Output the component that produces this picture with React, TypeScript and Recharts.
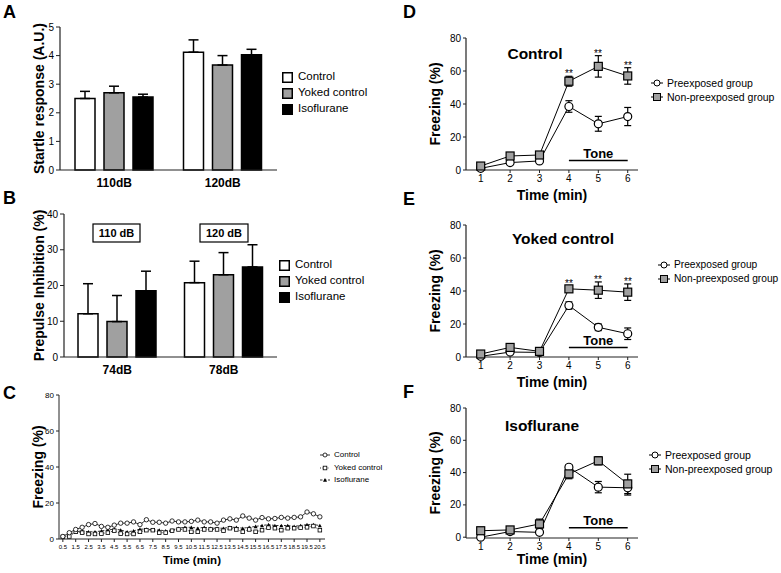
import React from 'react';
import {
  BarChart, Bar, LineChart, Line, XAxis, YAxis, ErrorBar, Legend,
  ReferenceLine, LabelList,
} from 'recharts';

const FONT = '"Liberation Sans", Arial, Helvetica, sans-serif';
const AX = '#222';

// ---------- Panel A: startle response ----------
const aCategories = ['110dB', '120dB'];
const aControl = [2.5, 4.12];
const aControlErr = [0.25, 0.43];
const aYoked = [2.7, 3.67];
const aYokedErr = [0.23, 0.33];
const aIso = [2.55, 4.03];
const aIsoErr = [0.1, 0.19];
const aTicks = [0, 1, 2, 3, 4, 5];

// ---------- Panel B: prepulse inhibition ----------
const bCategories = ['74dB', '78dB'];
const bControl = [12.1, 20.8];
const bControlErr = [8.4, 6.0];
const bYoked = [9.9, 23.0];
const bYokedErr = [7.3, 6.2];
const bIso = [18.5, 25.2];
const bIsoErr = [5.5, 6.2];
const bTicks = [0, 10, 20, 30, 40];
const bBoxLabels = ['110 dB', '120 dB'];

const groupNames = ['Control', 'Yoked control', 'Isoflurane'];
const groupFills = ['#ffffff', '#a0a0a0', '#000000'];

// ---------- Panel C: freezing over 20 min ----------
const cTime = [0.5, 1, 1.5, 2, 2.5, 3, 3.5, 4, 4.5, 5, 5.5, 6, 6.5, 7, 7.5, 8, 8.5, 9, 9.5, 10,
  10.5, 11, 11.5, 12, 12.5, 13, 13.5, 14, 14.5, 15, 15.5, 16, 16.5, 17, 17.5, 18, 18.5, 19, 19.5, 20, 20.5];
const cControl = [1.4, 3.5, 5.3, 6.5, 8, 8.6, 7, 6.5, 7.7, 8.8, 8.8, 9.5, 8, 10.7, 9.3, 9.3, 8.8, 10, 9.5, 9.5,
  9.8, 10.5, 9.5, 9.5, 8.8, 10.5, 11.2, 10.5, 12.8, 11.6, 10.5, 11.9, 11.2, 11.4, 12, 11.6, 12, 12.3, 15, 14, 12.3];
const cYoked = [1.2, 1.4, 4, 3.5, 2.8, 2.8, 3, 3.5, 4.6, 3, 2.8, 2.8, 4, 4.9, 4.9, 3.5, 3.5, 4.6, 5.3, 5.3,
  4, 4, 5.3, 5.3, 5.3, 4.6, 6, 5.3, 4, 5.3, 4, 4.9, 6.3, 6, 4.9, 6, 6, 6.3, 6.5, 7.2, 4.9];
const cIso = [1.5, 2.5, 4, 4.5, 4, 4, 4.5, 5, 5.5, 5, 4, 4.5, 5.5, 5.5, 5, 5, 4.5, 5, 6, 6.5,
  6.5, 6, 6.5, 6, 6, 6, 6.5, 6.5, 6, 6.5, 7, 7.5, 8, 7.5, 7.5, 7.5, 7, 7.5, 8, 8, 7.5];
const cTicks = [0.5, 1.5, 2.5, 3.5, 4.5, 5.5, 6.5, 7.5, 8.5, 9.5, 10.5, 11.5, 12.5, 13.5, 14.5, 15.5, 16.5, 17.5, 18.5, 19.5, 20.5];
const freezeTicks = [0, 20, 40, 60, 80];

// ---------- Panels D-F: tone test ----------
const timeMin = [1, 2, 3, 4, 5, 6];
const toneLevel = 5.8;
const lineNames = ['Preexposed group', 'Non-preexposed group'];

const dPre = [1, 4.5, 5.5, 38.5, 28, 32.4];
const dPreErr = [0.5, 1, 1, 3.5, 4.5, 5.5];
const dNon = [2.4, 8.5, 9.1, 53.8, 62.8, 57];
const dNonErr = [0.5, 1.5, 1.5, 3, 6.5, 5];
const dSig = ['', '', '', '**', '**', '**'];

const ePre = [0.4, 3, 2.8, 31.2, 18, 14.1];
const ePreErr = [0.3, 1, 0.8, 2.2, 2, 3.5];
const eNon = [1.8, 5.8, 3.4, 41.3, 40.5, 39.3];
const eNonErr = [0.5, 1, 0.8, 1.8, 5, 5];
const eSig = ['', '', '', '**', '**', '**'];

const fPre = [0, 3.5, 3, 43.3, 31, 30.6];
const fPreErr = [0.5, 0.8, 0.8, 1.5, 3.5, 4.5];
const fNon = [4, 4.5, 8.2, 39.2, 47.3, 33];
const fNonErr = [2, 1, 3, 3, 2.5, 6];
const fSig = ['', '', '', '', '', ''];

// ---------- helpers ----------
const yTitle = (text: string, x: number, size: number) => (props: any) => {
  const vb = props.viewBox || {};
  const cy = (vb.y ?? 0) + (vb.height ?? 0) / 2;
  return (
    <text transform={`translate(${x},${cy}) rotate(-90)`} textAnchor="middle" dominantBaseline="central"
      fontFamily={FONT} fontWeight="bold" fontSize={size} fill="#000">{text}</text>
  );
};
const xTitle = (text: string, y: number, size: number) => (props: any) => {
  const vb = props.viewBox || {};
  const cx = (vb.x ?? 0) + (vb.width ?? 0) / 2;
  return (
    <text x={cx} y={y} textAnchor="middle" dominantBaseline="central"
      fontFamily={FONT} fontWeight="bold" fontSize={size} fill="#000">{text}</text>
  );
};

const boxLegend = (fontSize: number, rowH: number) => () => (
  <div style={{ fontFamily: FONT, fontSize, color: '#000', lineHeight: 1 }}>
    {groupNames.map((n, i) => (
      <div key={n} style={{ display: 'flex', alignItems: 'center', height: rowH, whiteSpace: 'nowrap' }}>
        <svg width={11} height={11} style={{ marginRight: 5 }}>
          <rect x={0.75} y={0.75} width={9.5} height={9.5} fill={groupFills[i]} stroke="#000" strokeWidth={1.5} />
        </svg>
        <span>{n}</span>
      </div>
    ))}
  </div>
);

const mkSquare = (size: number, fill: string, sw: number) => (p: any) => {
  if (p.cx == null || p.cy == null) return <g key={p.key} />;
  return <rect key={p.key} x={p.cx - size / 2} y={p.cy - size / 2} width={size} height={size} fill={fill} stroke="#000" strokeWidth={sw} />;
};
const mkCircle = (r: number, sw: number) => (p: any) => {
  if (p.cx == null || p.cy == null) return <g key={p.key} />;
  return <circle key={p.key} cx={p.cx} cy={p.cy} r={r} fill="#fff" stroke="#000" strokeWidth={sw} />;
};
const mkTriangle = (s: number) => (p: any) => {
  if (p.cx == null || p.cy == null) return <g key={p.key} />;
  const h = s * 0.9;
  return <path key={p.key} d={`M${p.cx},${p.cy - h / 2} L${p.cx + s / 2},${p.cy + h / 2} L${p.cx - s / 2},${p.cy + h / 2} Z`} fill="#000" />;
};

const lineLegend = (fontSize: number, rowH: number) => () => (
  <div style={{ fontFamily: FONT, fontSize, color: '#000', lineHeight: 1 }}>
    {lineNames.map((n, i) => (
      <div key={n} style={{ display: 'flex', alignItems: 'center', height: rowH, whiteSpace: 'nowrap' }}>
        <svg width={12} height={10} style={{ marginRight: 4 }}>
          <line x1={0} y1={5} x2={12} y2={5} stroke="#000" strokeWidth={1} />
          {i === 0
            ? <circle cx={6} cy={5} r={3} fill="#fff" stroke="#000" strokeWidth={1} />
            : <rect x={2.5} y={1.5} width={7} height={7} fill="#a0a0a0" stroke="#000" strokeWidth={1} />}
        </svg>
        <span>{n}</span>
      </div>
    ))}
  </div>
);

const cLegendStyles = [
  { dash: undefined, marker: 'circle' },
  { dash: '1 1.5', marker: 'square' },
  { dash: '2.5 1.5', marker: 'triangle' },
];
const cLegend = () => (
  <div style={{ fontFamily: FONT, fontSize: 8, color: '#000', lineHeight: 1 }}>
    {groupNames.map((n, i) => (
      <div key={n} style={{ display: 'flex', alignItems: 'center', height: 12.5, whiteSpace: 'nowrap' }}>
        <svg width={10} height={8} style={{ marginRight: 4 }}>
          <line x1={0} y1={4} x2={10} y2={4} stroke="#000" strokeWidth={0.8} strokeDasharray={cLegendStyles[i].dash} />
          {cLegendStyles[i].marker === 'circle' && <circle cx={5} cy={4} r={2} fill="#fff" stroke="#000" strokeWidth={0.8} />}
          {cLegendStyles[i].marker === 'square' && <rect x={3.2} y={2.2} width={3.6} height={3.6} fill="#fff" stroke="#000" strokeWidth={0.8} />}
          {cLegendStyles[i].marker === 'triangle' && <path d="M5,2 L7,5.8 L3,5.8 Z" fill="#000" />}
        </svg>
        <span>{n}</span>
      </div>
    ))}
  </div>
);

const toneLabel = (props: any) => {
  const vb = props.viewBox || {};
  const cx = (vb.x ?? 0) + (vb.width ?? 0) / 2;
  return (
    <text x={cx} y={(vb.y ?? 0) - 2.5} textAnchor="middle" fontFamily={FONT} fontWeight="bold" fontSize={13} fill="#000">Tone</text>
  );
};
const starLabel = (props: any) => {
  if (props.value == null || props.x == null || props.y == null) return null;
  return (
    <text x={Math.round(props.x)} y={Math.round(props.y) + 0.5} textAnchor="middle" fontFamily={FONT} fontSize={10}
      style={{ fill: '#000' }}>**</text>
  );
};

const tickStyle = (size: number, bold = false) => ({ fontSize: size, fill: '#000', fontFamily: FONT, fontWeight: bold ? 'bold' : 'normal' });

// ---------- bar panels ----------
function GroupBarPanel(props: {
  left: number; top: number; cats: string[]; c: number[]; ce: number[]; y: number[]; ye: number[]; i: number[]; ie: number[];
  ticks: number[]; marginTop: number; axisWidth: number; title: string; legendLeft: number; legendTop: number;
}) {
  const data = props.cats.map((name, k) => ({
    name,
    control: props.c[k], controlErr: [0, props.ce[k]],
    yoked: props.y[k], yokedErr: [0, props.ye[k]],
    iso: props.i[k], isoErr: [0, props.ie[k]],
  }));
  const max = props.ticks[props.ticks.length - 1];
  const H = 196;
  return (
    <div style={{ position: 'absolute', left: props.left, top: props.top }}>
      <BarChart width={390} height={H} data={data} margin={{ top: props.marginTop, right: 113, bottom: 0, left: 0 }}
        barSize={20} barGap={9}>
        <XAxis dataKey="name" height={H - props.marginTop - 143} tickLine={false} tickSize={0} tickMargin={8}
          axisLine={{ stroke: AX, strokeWidth: 1.2 }} tick={tickStyle(12, true)} />
        <YAxis type="number" width={props.axisWidth} domain={[0, max]} ticks={props.ticks} interval={0}
          tickSize={4} tickMargin={2} tick={tickStyle(10)} axisLine={{ stroke: AX, strokeWidth: 1.2 }} tickLine={{ stroke: AX }}
          label={yTitle(props.title, 39, 14)} />
        <Bar dataKey="control" fill={groupFills[0]} stroke="#000" strokeWidth={1.5} isAnimationActive={false}>
          <ErrorBar dataKey="controlErr" width={5} stroke="#000" strokeWidth={1.5} direction="y" />
        </Bar>
        <Bar dataKey="yoked" fill={groupFills[1]} stroke="#000" strokeWidth={1.5} isAnimationActive={false}>
          <ErrorBar dataKey="yokedErr" width={5} stroke="#000" strokeWidth={1.5} direction="y" />
        </Bar>
        <Bar dataKey="iso" fill={groupFills[2]} stroke="#000" strokeWidth={1.5} isAnimationActive={false}>
          <ErrorBar dataKey="isoErr" width={5} stroke="#000" strokeWidth={1.5} direction="y" />
        </Bar>
        <Legend layout="vertical" align="center" verticalAlign="middle" content={boxLegend(11.5, 16)}
          wrapperStyle={{ left: props.legendLeft, top: props.legendTop, width: 'auto' }} />
      </BarChart>
    </div>
  );
}

// ---------- freezing panel C ----------
function PanelC() {
  const data = cTime.map((t, k) => ({ t, control: cControl[k], yoked: cYoked[k], iso: cIso[k] }));
  return (
    <div style={{ position: 'absolute', left: 0, top: 375 }}>
      <LineChart width={390} height={198} data={data} margin={{ top: 20, right: 65, bottom: 0, left: 0 }}>
        <XAxis type="number" dataKey="t" domain={[0.2, 20.9]} ticks={cTicks} interval={0} height={34}
          tickSize={3} tickMargin={3} tick={tickStyle(6)} axisLine={{ stroke: AX }} tickLine={{ stroke: AX }}
          label={xTitle('Time (min)', 185, 11.5)} />
        <YAxis type="number" width={59} domain={[0, 80]} ticks={freezeTicks} interval={0}
          tickSize={3} tickMargin={2} tick={tickStyle(8)} axisLine={{ stroke: AX }} tickLine={{ stroke: AX }}
          label={yTitle('Freezing (%)', 38, 14)} />
        <Line dataKey="iso" stroke="#000" strokeWidth={0.8} strokeDasharray="2.5 1.5" dot={mkTriangle(4)} activeDot={false} isAnimationActive={false} />
        <Line dataKey="yoked" stroke="#000" strokeWidth={0.8} strokeDasharray="1 1.5" dot={mkSquare(3.6, '#fff', 0.8)} activeDot={false} isAnimationActive={false} />
        <Line dataKey="control" stroke="#000" strokeWidth={0.8} dot={mkCircle(2.2, 0.8)} activeDot={false} isAnimationActive={false} />
        <Legend layout="vertical" align="center" verticalAlign="middle" content={cLegend}
          wrapperStyle={{ left: 320, top: 74, width: 'auto' }} />
      </LineChart>
    </div>
  );
}

// ---------- tone panels D-F ----------
function TonePanel(props: {
  top: number; height: number; marginTop: number; axisHeight: number;
  pre: number[]; preErr: number[]; non: number[]; nonErr: number[]; sig: string[];
  xTitleY: number; legendLeft: number; legendTop: number; legendFont: number;
}) {
  const data = timeMin.map((t, k) => ({
    t, pre: props.pre[k], preErr: props.preErr[k], non: props.non[k], nonErr: props.nonErr[k],
    star: props.sig[k] ? props.non[k] + props.nonErr[k] : null,
  }));
  return (
    <div style={{ position: 'absolute', left: 390, top: props.top }}>
      <LineChart width={391} height={props.height} data={data} margin={{ top: props.marginTop, right: 143, bottom: 0, left: 0 }}>
        <XAxis type="number" dataKey="t" domain={[0.5, 6.35]} ticks={timeMin} interval={0} height={props.axisHeight}
          tickSize={3} tickMargin={2} tick={tickStyle(10)} axisLine={{ stroke: AX, strokeWidth: 1.2 }} tickLine={{ stroke: AX }}
          label={xTitle('Time (min)', props.xTitleY, 14)} />
        <YAxis type="number" width={76} domain={[0, 80]} ticks={freezeTicks} interval={0}
          tickSize={3} tickMargin={2} tick={tickStyle(10)} axisLine={{ stroke: AX, strokeWidth: 1.2 }} tickLine={{ stroke: AX }}
          label={yTitle('Freezing (%)', 45, 14)} />
        <ReferenceLine segment={[{ x: 4, y: toneLevel }, { x: 6, y: toneLevel }]} stroke="#000" strokeWidth={1.5}
          ifOverflow="visible" label={toneLabel} />
        <Line dataKey="pre" stroke="#000" strokeWidth={1} dot={mkCircle(4, 1.2)} activeDot={false} isAnimationActive={false}>
          <ErrorBar dataKey="preErr" width={3.5} stroke="#000" strokeWidth={1.2} direction="y" />
        </Line>
        <Line dataKey="non" stroke="#000" strokeWidth={1} dot={mkSquare(8, '#a0a0a0', 1.2)} activeDot={false} isAnimationActive={false}>
          <ErrorBar dataKey="nonErr" width={3.5} stroke="#000" strokeWidth={1.2} direction="y" />
        </Line>
        <Line dataKey="star" stroke="none" dot={false} activeDot={false} isAnimationActive={false} legendType="none">
          <LabelList dataKey="star" content={starLabel} />
        </Line>
        <Legend layout="vertical" align="center" verticalAlign="middle" content={lineLegend(props.legendFont, 14)}
          wrapperStyle={{ left: props.legendLeft, top: props.legendTop, width: 'auto' }} />
      </LineChart>
    </div>
  );
}

function Overlay() {
  const letter = (t: string, x: number, y: number) => (
    <text x={x} y={y} fontFamily={FONT} fontWeight="bold" fontSize={18} fill="#000">{t}</text>
  );
  const title = (t: string, x: number, y: number) => (
    <text x={x} y={y} textAnchor="middle" fontFamily={FONT} fontWeight="bold" fontSize={15.5} fill="#000">{t}</text>
  );
  const boxes = [{ x: 93, w: 47 }, { x: 200, w: 48 }];
  return (
    <svg width={781} height={573} style={{ position: 'absolute', left: 0, top: 0, pointerEvents: 'none' }}>
      {letter('A', 3, 18)}
      {letter('B', 3, 204)}
      {letter('C', 3, 399)}
      {letter('D', 403, 18)}
      {letter('E', 403, 205)}
      {letter('F', 403, 398)}
      {title('Control', 535, 58.5)}
      {title('Yoked control', 563, 243.5)}
      {title('Isoflurane', 542, 430.5)}
      {boxes.map((b, k) => (
        <g key={k}>
          <rect x={b.x} y={224} width={b.w} height={18} fill="#fff" stroke="#000" strokeWidth={1.2} />
          <text x={b.x + b.w / 2} y={233} textAnchor="middle" dominantBaseline="central" fontFamily={FONT}
            fontWeight="bold" fontSize={11} fill="#000">{bBoxLabels[k]}</text>
        </g>
      ))}
    </svg>
  );
}

export default function App() {
  return (
    <div style={{ position: 'absolute', left: 0, top: 0, width: 781, height: 573, background: '#fff', overflow: 'hidden' }}>
      <GroupBarPanel left={0} top={0} cats={aCategories} c={aControl} ce={aControlErr} y={aYoked} ye={aYokedErr}
        i={aIso} ie={aIsoErr} ticks={aTicks} marginTop={27} axisWidth={60} title="Startle response (A.U.)"
        legendLeft={282} legendTop={69} />
      <GroupBarPanel left={0} top={185} cats={bCategories} c={bControl} ce={bControlErr} y={bYoked} ye={bYokedErr}
        i={bIso} ie={bIsoErr} ticks={bTicks} marginTop={29} axisWidth={64} title="Prepulse Inhibition (%)"
        legendLeft={279} legendTop={72} />
      <PanelC />
      <TonePanel top={0} height={210} marginTop={38} axisHeight={40} pre={dPre} preErr={dPreErr} non={dNon} nonErr={dNonErr}
        sig={dSig} xTitleY={195} legendLeft={261} legendTop={76} legendFont={10.5} />
      <TonePanel top={185} height={210} marginTop={40} axisHeight={38} pre={ePre} preErr={ePreErr} non={eNon} nonErr={eNonErr}
        sig={eSig} xTitleY={197} legendLeft={268} legendTop={73} legendFont={10.2} />
      <TonePanel top={375} height={198} marginTop={33} axisHeight={35} pre={fPre} preErr={fPreErr} non={fNon} nonErr={fNonErr}
        sig={fSig} xTitleY={184} legendLeft={259} legendTop={73} legendFont={10.5} />
      <Overlay />
    </div>
  );
}
